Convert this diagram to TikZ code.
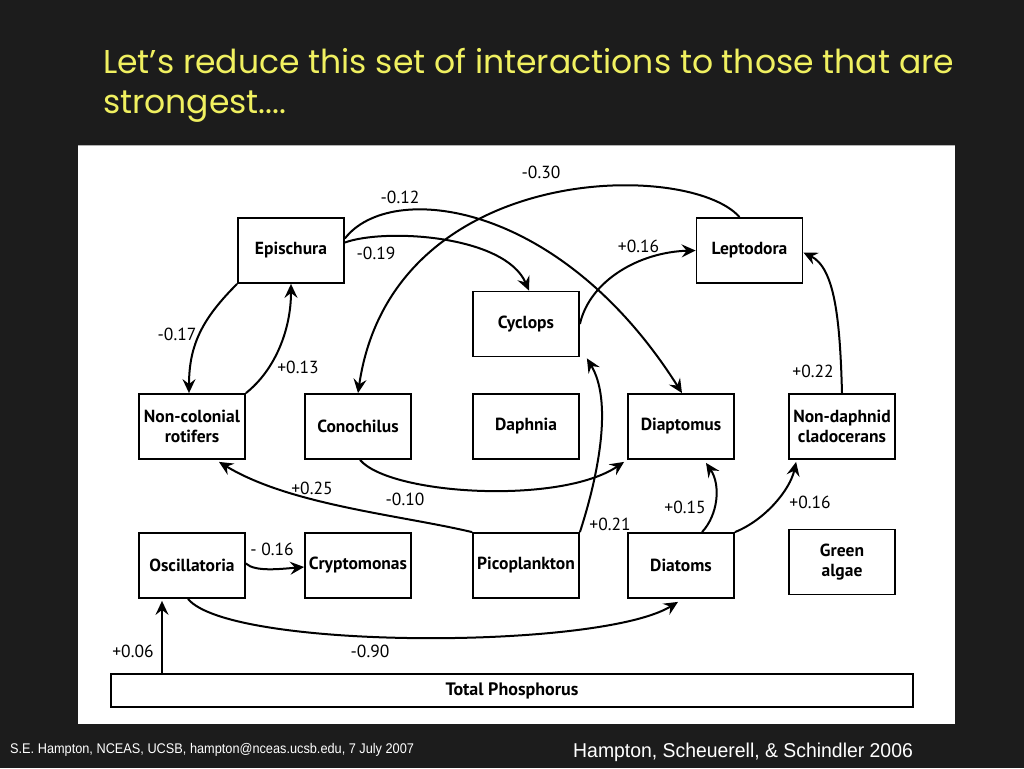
\documentclass[tikz,border=0pt]{standalone}
\usepackage{fontspec}
\setmainfont{PT Sans}
\newfontfamily\titlefont{Poppins}
\newfontfamily\footfont[FakeStretch=0.91]{Liberation Sans}
\newfontfamily\footfontb[FakeStretch=0.97]{Liberation Sans}
\usetikzlibrary{arrows.meta}
\definecolor{bgdark}{RGB}{28,28,28}
\definecolor{titleyellow}{RGB}{240,240,96}
\begin{document}
\begin{tikzpicture}[x=1pt,y=-1pt,
  box/.style={draw=black,line width=1.8pt,minimum width=106pt,minimum height=65pt,inner sep=0pt,align=center,font=\fontsize{17.5}{20}\selectfont\bfseries},
  lab/.style={font=\fontsize{17.5}{18}\selectfont,inner sep=0pt},
  conn/.style={line width=2pt,-{Stealth[length=14pt,width=13pt,inset=5pt]}},
]
\useasboundingbox (0,0) rectangle (1024,768);
\fill[bgdark] (0,0) rectangle (1024,768);
\fill[white] (78,145) rectangle (955,724);
\draw[gray!60,line width=1pt] (78,145.5) -- (955,145.5);
% title
\node[anchor=base west,inner sep=0pt,text=titleyellow,font=\titlefont\fontsize{33}{36}\selectfont] (t1) at (103,73) {Let’s reduce this set of interactions to those that are};
\node[anchor=base west,inner sep=0pt,text=titleyellow,font=\titlefont\fontsize{33}{36}\selectfont] (t2) at (103,113) {strongest....};
% footers
\node[anchor=west,inner sep=0pt,text=white,font=\footfont\fontsize{14}{16}\selectfont] (f1) at (10,750) {S.E. Hampton, NCEAS, UCSB, hampton@nceas.ucsb.edu, 7 July 2007};
\node[anchor=west,inner sep=0pt,text=white,font=\footfontb\fontsize{20}{22}\selectfont] (f2) at (573,752) {Hampton, Scheuerell, \& Schindler 2006};
% boxes
\node[box] (epi) at (291,250.5) {Epischura};
\node[box] (lep) at (749.5,250.5) {Leptodora};
\node[box] (cyc) at (526,324) {Cyclops};
\node[box] (ncr) at (192,426.5) {Non-colonial\\rotifers};
\node[box] (con) at (358,426.5) {Conochilus};
\node[box] (dap) at (526,426.5) {Daphnia};
\node[box] (dia) at (681,426.5) {Diaptomus};
\node[box] (ndc) at (842,426.5) {Non-daphnid\\cladocerans};
\node[box] (osc) at (192,565.5) {Oscillatoria};
\node[box] (cry) at (358,565.5) {Cryptomonas};
\node[box] (pic) at (526,565.5) {Picoplankton};
\node[box] (dtm) at (681,565.5) {Diatoms};
\node[box] (grn) at (842,562) {Green\\algae};
\node[box,minimum width=802pt,minimum height=33pt,font=\fontsize{18}{20}\selectfont\bfseries] (tp) at (512,690.5) {Total Phosphorus};
% connectors (canvas shifts: positive y is up)
\draw[conn] (epi.south west) .. controls (203,318) and (189,344) .. ([xshift=-3pt]ncr.north);
\draw[conn] (ncr.north east) .. controls (275,370) and (291,330) .. (epi.south);
\draw[conn] ([yshift=12pt]epi.east) .. controls (390,180) and (560,200) .. ([xshift=1pt]dia.north);
\draw[conn] ([yshift=8pt]epi.east) .. controls (385,228) and (505,235) .. ([xshift=3pt]cyc.north);
\draw[conn] ([xshift=-10pt]lep.north) .. controls (690,160) and (392,160) .. (con.north);
\draw[conn] (cyc.east) .. controls (590,280) and (640,252) .. (lep.west);
\draw[conn] (ndc.north) .. controls (840,320) and (835,268) .. ([yshift=-2pt]lep.east);
\draw[conn] ([xshift=2pt]con.south) .. controls (390,495) and (560,505) .. ([shift={(-3pt,-2pt)}]dia.south west);
\draw[conn] (pic.north west) .. controls (400,515) and (290,505) .. ([shift={(27pt,-2pt)}]ncr.south);
\draw[conn] (pic.north east) .. controls (600,470) and (612,400) .. ([shift={(7pt,-1pt)}]cyc.south east);
\draw[conn] ([xshift=21pt]dtm.north) .. controls (718,515) and (721,485) .. ([shift={(25pt,-3pt)}]dia.south);
\draw[conn] (dtm.north east) .. controls (765,520) and (790,490) .. ([shift={(8pt,-2pt)}]ndc.south west);
\draw[conn] ([yshift=2pt]osc.east) .. controls (255,572) and (280,569) .. ([yshift=-1.5pt]cry.west);
\draw[conn] ([xshift=-4pt]osc.south) .. controls (230,650) and (600,650) .. ([shift={(-3pt,-3pt)}]dtm.south);
\coordinate (tpx) at (162,674);
\draw[conn] (tpx) -- ([yshift=-2pt]tpx |- osc.south);
% labels
\node[lab] (l1) at (177,334) {-0.17};
\node[lab] (l2) at (298,367) {+0.13};
\node[lab] (l3) at (400,197) {-0.12};
\node[lab] (l4) at (376,253) {-0.19};
\node[lab] (l5) at (541,172) {-0.30};
\node[lab] (l6) at (638.5,246) {+0.16};
\node[lab] (l7) at (813,371) {+0.22};
\node[lab] (l8) at (312,488) {+0.25};
\node[lab] (l9) at (405,499) {-0.10};
\node[lab] (l10) at (272,549) {- 0.16};
\node[lab] (l11) at (133,651) {+0.06};
\node[lab] (l12) at (370,651) {-0.90};
\node[lab] (l13) at (610,524) {+0.21};
\node[lab] (l14) at (685,507) {+0.15};
\node[lab] (l15) at (810,502) {+0.16};
\end{tikzpicture}
\end{document}
